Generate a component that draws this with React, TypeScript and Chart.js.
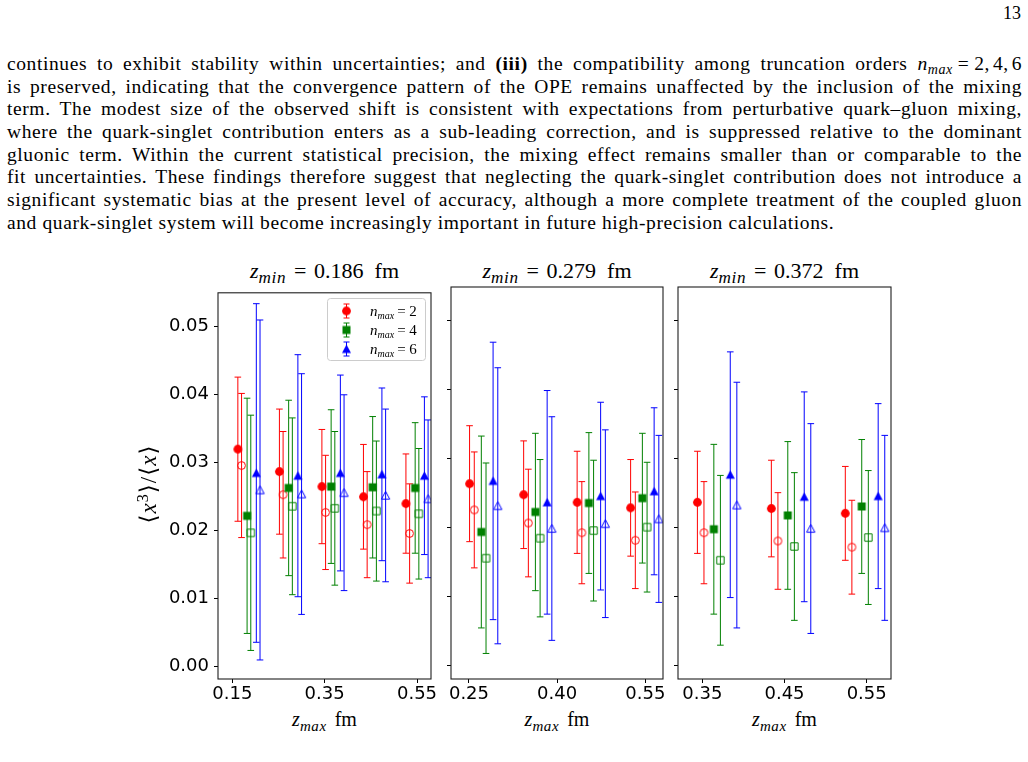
import React, { useEffect, useRef } from "react";
import { Chart, registerables } from "chart.js";

Chart.register(...registerables);

// ---------------- data ----------------
const N_MAX = [2, 4, 6];
const Z_MIN_LABELS = ["0.186", "0.279", "0.372"];

const Y_TICKS = [0, 0.01, 0.02, 0.03, 0.04, 0.05];
const Y_MIN = -0.0019;
const Y_MAX = 0.0549;

// z_min = 0.186 fm
const P1_ZMAX = [0.186, 0.276, 0.368, 0.458, 0.55];
const P1_X_TICKS = [0.15, 0.35, 0.55];
const P1_N2 = [0.0319, 0.0286, 0.0264, 0.0249, 0.0239];
const P1_N2_ERR = [0.0106, 0.0092, 0.0084, 0.0077, 0.0073];
const P1_N2_OPEN = [0.0295, 0.0252, 0.0226, 0.0208, 0.0195];
const P1_N2_OPEN_ERR = [0.0106, 0.0093, 0.0084, 0.0078, 0.0073];
const P1_N4 = [0.0221, 0.0262, 0.0264, 0.0263, 0.0262];
const P1_N4_ERR = [0.0173, 0.0129, 0.0113, 0.0104, 0.0096];
const P1_N4_OPEN = [0.0196, 0.0235, 0.0232, 0.0228, 0.0224];
const P1_N4_OPEN_ERR = [0.0173, 0.013, 0.0113, 0.0103, 0.0096];
const P1_N6 = [0.0284, 0.028, 0.0284, 0.0282, 0.028];
const P1_N6_ERR = [0.0249, 0.0178, 0.0144, 0.0127, 0.0116];
const P1_N6_OPEN = [0.0259, 0.0253, 0.0255, 0.0251, 0.0246];
const P1_N6_OPEN_ERR = [0.025, 0.0177, 0.0144, 0.0127, 0.0116];

// z_min = 0.279 fm
const P2_ZMAX = [0.275, 0.367, 0.458, 0.549];
const P2_X_TICKS = [0.25, 0.4, 0.55];
const P2_N2 = [0.0264, 0.0248, 0.0237, 0.0229];
const P2_N2_ERR = [0.0084, 0.0078, 0.0074, 0.007];
const P2_N2_OPEN = [0.0226, 0.0207, 0.0193, 0.0182];
const P2_N2_OPEN_ERR = [0.0084, 0.0078, 0.0074, 0.007];
const P2_N4 = [0.0194, 0.0223, 0.0236, 0.0243];
const P2_N4_ERR = [0.0139, 0.0114, 0.0102, 0.0094];
const P2_N4_OPEN = [0.0156, 0.0185, 0.0196, 0.0201];
const P2_N4_OPEN_ERR = [0.0138, 0.0114, 0.0102, 0.0094];
const P2_N6 = [0.0268, 0.0237, 0.0246, 0.0253];
const P2_N6_ERR = [0.0201, 0.0162, 0.0136, 0.0121];
const P2_N6_OPEN = [0.0232, 0.0199, 0.0206, 0.0213];
const P2_N6_OPEN_ERR = [0.02, 0.0162, 0.0136, 0.0121];

// z_min = 0.372 fm
const P3_ZMAX = [0.368, 0.458, 0.548];
const P3_X_TICKS = [0.35, 0.45, 0.55];
const P3_N2 = [0.0237, 0.0228, 0.0221];
const P3_N2_ERR = [0.0074, 0.007, 0.0068];
const P3_N2_OPEN = [0.0193, 0.0181, 0.0172];
const P3_N2_OPEN_ERR = [0.0074, 0.007, 0.0068];
const P3_N4 = [0.0198, 0.0218, 0.0231];
const P3_N4_ERR = [0.0123, 0.0107, 0.0097];
const P3_N4_OPEN = [0.0153, 0.0173, 0.0186];
const P3_N4_OPEN_ERR = [0.0123, 0.0107, 0.0097];
const P3_N6 = [0.0277, 0.0245, 0.0246];
const P3_N6_ERR = [0.0178, 0.0152, 0.0134];
const P3_N6_OPEN = [0.0233, 0.0199, 0.02];
const P3_N6_OPEN_ERR = [0.0178, 0.0152, 0.0134];

// ---------------- panel setup ----------------
type Series = { values: number[]; errors: number[] };
type PanelSpec = {
  zmin: string;
  zmax: number[];
  xMin: number;
  xMax: number;
  xTicks: number[];
  series: Series[];
};

const PANELS: PanelSpec[] = [
  {
    zmin: Z_MIN_LABELS[0],
    zmax: P1_ZMAX,
    xMin: 0.119,
    xMax: 0.5803,
    xTicks: P1_X_TICKS,
    series: [
      { values: P1_N2, errors: P1_N2_ERR },
      { values: P1_N2_OPEN, errors: P1_N2_OPEN_ERR },
      { values: P1_N4, errors: P1_N4_ERR },
      { values: P1_N4_OPEN, errors: P1_N4_OPEN_ERR },
      { values: P1_N6, errors: P1_N6_ERR },
      { values: P1_N6_OPEN, errors: P1_N6_OPEN_ERR },
    ],
  },
  {
    zmin: Z_MIN_LABELS[1],
    zmax: P2_ZMAX,
    xMin: 0.2194,
    xMax: 0.5801,
    xTicks: P2_X_TICKS,
    series: [
      { values: P2_N2, errors: P2_N2_ERR },
      { values: P2_N2_OPEN, errors: P2_N2_OPEN_ERR },
      { values: P2_N4, errors: P2_N4_ERR },
      { values: P2_N4_OPEN, errors: P2_N4_OPEN_ERR },
      { values: P2_N6, errors: P2_N6_ERR },
      { values: P2_N6_OPEN, errors: P2_N6_OPEN_ERR },
    ],
  },
  {
    zmin: Z_MIN_LABELS[2],
    zmax: P3_ZMAX,
    xMin: 0.3204,
    xMax: 0.5796,
    xTicks: P3_X_TICKS,
    series: [
      { values: P3_N2, errors: P3_N2_ERR },
      { values: P3_N2_OPEN, errors: P3_N2_OPEN_ERR },
      { values: P3_N4, errors: P3_N4_ERR },
      { values: P3_N4_OPEN, errors: P3_N4_OPEN_ERR },
      { values: P3_N6, errors: P3_N6_ERR },
      { values: P3_N6_OPEN, errors: P3_N6_OPEN_ERR },
    ],
  },
];

// horizontal shift (in fm) applied to each series so the six markers sit side by side
const SERIES_SHIFT = [-0.024, -0.016, -0.004, 0.004, 0.016, 0.024];

const SERIES_STYLE = [
  { color: "#ff0000", shape: "circle", filled: true },
  { color: "#ff0000", shape: "circle", filled: false },
  { color: "#008000", shape: "square", filled: true },
  { color: "#008000", shape: "square", filled: false },
  { color: "#0000ff", shape: "triangle", filled: true },
  { color: "#0000ff", shape: "triangle", filled: false },
];

// canvas placement of each panel (page pixels) and plot-area margins
const LAYOUT = [
  { left: 140, top: 277, width: 305, height: 423, yAxisWidth: 78, xAxisHeight: 21, padTop: 10, padRight: 14 },
  { left: 441, top: 277, width: 236, height: 423, yAxisWidth: 10, xAxisHeight: 21, padTop: 10, padRight: 14 },
  { left: 668, top: 277, width: 237, height: 423, yAxisWidth: 10, xAxisHeight: 21, padTop: 10, padRight: 14 },
];

const TICK_FONT = { family: "'DejaVu Sans', sans-serif", size: 18 };
const CAP = 3.3;

// ---------------- marker glyphs ----------------
const markerCache: Record<string, HTMLCanvasElement> = {};
function getMarker(k: number): HTMLCanvasElement {
  const st = SERIES_STYLE[k];
  const key = String(k);
  if (markerCache[key]) return markerCache[key];
  const c = document.createElement("canvas");
  c.width = 13;
  c.height = 13;
  const g = c.getContext("2d")!;
  g.fillStyle = st.color;
  g.strokeStyle = st.color;
  g.lineWidth = 1;
  g.beginPath();
  if (st.shape === "circle") {
    g.arc(6.5, 6.5, st.filled ? 4.4 : 3.9, 0, Math.PI * 2);
  } else if (st.shape === "square") {
    if (st.filled) g.rect(2.5, 2.5, 8, 8);
    else g.rect(2.8, 2.8, 7.4, 7.4);
  } else {
    if (st.filled) {
      g.moveTo(6.5, 2);
      g.lineTo(11, 10.5);
      g.lineTo(2, 10.5);
    } else {
      g.moveTo(6.5, 2.4);
      g.lineTo(10.6, 10.2);
      g.lineTo(2.4, 10.2);
    }
    g.closePath();
  }
  if (st.filled) g.fill();
  else g.stroke();
  markerCache[key] = c;
  return c;
}

// ---------------- plugins ----------------
const errorBarPlugin = {
  id: "errorBars",
  beforeDatasetDraw(chart: any, args: any) {
    const ds = chart.data.datasets[args.index];
    const errs: number[] | undefined = ds.errors;
    if (!errs) return;
    const { ctx, chartArea: a, scales } = chart;
    ctx.save();
    ctx.beginPath();
    ctx.rect(a.left, a.top, a.right - a.left, a.bottom - a.top);
    ctx.clip();
    ctx.strokeStyle = ds.errorColor;
    ctx.lineWidth = 1;
    ds.data.forEach((p: { x: number; y: number }, i: number) => {
      const x = scales.x.getPixelForValue(p.x);
      const yHi = scales.y.getPixelForValue(p.y + errs[i]);
      const yLo = scales.y.getPixelForValue(p.y - errs[i]);
      ctx.beginPath();
      ctx.moveTo(x, yHi);
      ctx.lineTo(x, yLo);
      ctx.moveTo(x - CAP, yHi);
      ctx.lineTo(x + CAP, yHi);
      ctx.moveTo(x - CAP, yLo);
      ctx.lineTo(x + CAP, yLo);
      ctx.stroke();
    });
    ctx.restore();
  },
};

const framePlugin = {
  id: "frame",
  afterDatasetsDraw(chart: any) {
    const { ctx, chartArea: a } = chart;
    ctx.save();
    ctx.strokeStyle = "#1e1e1e";
    ctx.lineWidth = 1.1;
    ctx.strokeRect(a.left, a.top, a.right - a.left, a.bottom - a.top);
    ctx.restore();
  },
};

const legendPlugin = {
  id: "nmaxLegend",
  afterDraw(chart: any) {
    const { ctx, chartArea: a } = chart;
    const w = 98;
    const h = 62;
    const x0 = Math.round(a.right - 6 - w) + 0.5;
    const y0 = Math.round(a.top + 5) + 0.5;
    ctx.save();
    ctx.beginPath();
    ctx.roundRect(x0, y0, w, h, 3);
    ctx.fillStyle = "rgba(255,255,255,0.8)";
    ctx.fill();
    ctx.strokeStyle = "#cccccc";
    ctx.lineWidth = 1;
    ctx.stroke();
    N_MAX.forEach((n, k) => {
      const st = SERIES_STYLE[k * 2];
      const mx = Math.round(x0 + 18) + 0.5;
      const my = Math.round(y0 + 12 + k * 19);
      ctx.strokeStyle = st.color;
      ctx.lineWidth = 1;
      ctx.beginPath();
      ctx.moveTo(mx, my - 7);
      ctx.lineTo(mx, my + 7);
      ctx.moveTo(mx - 3, my - 7);
      ctx.lineTo(mx + 3, my - 7);
      ctx.moveTo(mx - 3, my + 7);
      ctx.lineTo(mx + 3, my + 7);
      ctx.stroke();
      const img = getMarker(k * 2);
      ctx.drawImage(img, mx - img.width / 2, my - img.height / 2);

      let tx = x0 + 42.5;
      const by = my + 5;
      ctx.fillStyle = "#000";
      ctx.textBaseline = "alphabetic";
      ctx.textAlign = "left";
      ctx.font = "italic 15px 'Liberation Serif'";
      ctx.fillText("n", tx, by);
      tx += ctx.measureText("n").width;
      ctx.font = "italic 10px 'Liberation Serif'";
      ctx.fillText("max", tx, by + 3);
      tx += ctx.measureText("max").width + 3;
      ctx.font = "15px 'Liberation Serif'";
      ctx.fillText("= " + n, tx, by);
    });
    ctx.restore();
  },
};

// ---------------- components ----------------
function Panel({ spec, index }: { spec: PanelSpec; index: number }) {
  const ref = useRef<HTMLCanvasElement>(null);
  const L = LAYOUT[index];

  useEffect(() => {
    const canvas = ref.current;
    if (!canvas) return;
    const datasets = spec.series.map((s, k) => ({
      label: "n_max=" + N_MAX[Math.floor(k / 2)],
      data: spec.zmax.map((z, i) => ({ x: z + SERIES_SHIFT[k], y: s.values[i] })),
      errors: s.errors,
      errorColor: SERIES_STYLE[k].color,
      pointStyle: getMarker(k),
      pointRadius: 5,
      pointHoverRadius: 5,
      showLine: false,
      clip: 0,
      order: 6 - k,
    }));

    const chart = new Chart(canvas, {
      type: "scatter",
      data: { datasets } as any,
      options: {
        animation: false,
        responsive: false,
        events: [],
        layout: { padding: { left: 0, top: L.padTop, right: L.padRight, bottom: 0 } },
        plugins: {
          legend: { display: false },
          tooltip: { enabled: false },
          title: { display: false },
        },
        scales: {
          x: {
            type: "linear",
            min: spec.xMin,
            max: spec.xMax,
            bounds: "data",
            afterBuildTicks: (s: any) => {
              s.ticks = spec.xTicks.map((v) => ({ value: v }));
            },
            afterFit: (s: any) => {
              s.height = L.xAxisHeight;
            },
            ticks: {
              callback: (v: any) => Number(v).toFixed(2),
              color: "#000",
              font: TICK_FONT,
              padding: 1,
              maxRotation: 0,
              autoSkip: false,
            },
            grid: { display: true, drawOnChartArea: false, drawTicks: true, tickLength: 4, color: "#000" },
            border: { display: false },
          },
          y: {
            type: "linear",
            min: Y_MIN,
            max: Y_MAX,
            bounds: "data",
            afterBuildTicks: (s: any) => {
              s.ticks = Y_TICKS.map((v) => ({ value: v }));
            },
            afterFit: (s: any) => {
              s.width = L.yAxisWidth;
            },
            ticks: {
              display: index === 0,
              callback: (v: any) => Number(v).toFixed(2),
              color: "#000",
              font: TICK_FONT,
              padding: 5,
            },
            grid: { display: true, drawOnChartArea: false, drawTicks: true, tickLength: 4, color: "#000" },
            border: { display: false },
          },
        },
      } as any,
      plugins: index === 0 ? [errorBarPlugin, framePlugin, legendPlugin] : [errorBarPlugin, framePlugin],
    });
    return () => chart.destroy();
  }, [spec, index]);

  return (
    <canvas
      ref={ref}
      width={L.width}
      height={L.height}
      style={{ position: "absolute", left: L.left, top: L.top, width: L.width, height: L.height }}
    />
  );
}

const Sub = ({ children, size = "0.72em" }: { children: React.ReactNode; size?: string }) => (
  <span style={{ fontSize: size, fontStyle: "italic", position: "relative", top: "0.3em", letterSpacing: "0.04em" }}>
    {children}
  </span>
);

const PARAGRAPH_LINES: React.ReactNode[] = [
  <>
    continues to exhibit stability within uncertainties; and <b>(iii)</b> the compatibility among truncation orders{" "}
    <i>n</i>
    <Sub>max</Sub>
    <span style={{ margin: "0 0.25em" }}>=</span>2,<span style={{ marginLeft: "0.15em" }}>4,</span>
    <span style={{ marginLeft: "0.15em" }}>6</span>
  </>,
  "is preserved, indicating that the convergence pattern of the OPE remains unaffected by the inclusion of the mixing",
  "term. The modest size of the observed shift is consistent with expectations from perturbative quark\u2013gluon mixing,",
  "where the quark-singlet contribution enters as a sub-leading correction, and is suppressed relative to the dominant",
  "gluonic term. Within the current statistical precision, the mixing effect remains smaller than or comparable to the",
  "fit uncertainties. These findings therefore suggest that neglecting the quark-singlet contribution does not introduce a",
  "significant systematic bias at the present level of accuracy, although a more complete treatment of the coupled gluon",
  "and quark-singlet system will become increasingly important in future high-precision calculations.",
];

export default function App() {
  const serif = "'Liberation Serif', 'DejaVu Serif', serif";
  const centers = LAYOUT.map((L) => L.left + (L.width - L.padRight + L.yAxisWidth) / 2);
  return (
    <div
      style={{
        position: "absolute",
        left: 0,
        top: 0,
        width: 1028,
        height: 762,
        overflow: "hidden",
        background: "#fff",
        fontFamily: serif,
        color: "#000",
      }}
    >
      <div style={{ position: "absolute", right: 7, top: 4, fontSize: 18, lineHeight: "18px" }}>13</div>

      <div
        style={{
          position: "absolute",
          left: 7,
          top: 53,
          width: 1015,
          fontSize: 19.5,
          letterSpacing: "0.6px",
          lineHeight: "22.7px",
        }}
      >
        {PARAGRAPH_LINES.map((line, i) => (
          <div
            key={i}
            style={{
              textAlign: i === PARAGRAPH_LINES.length - 1 ? "left" : "justify",
              textAlignLast: i === PARAGRAPH_LINES.length - 1 ? "left" : "justify",
              height: 22.7,
            }}
          >
            {line}
          </div>
        ))}
      </div>

      {PANELS.map((p, i) => (
        <div
          key={"t" + i}
          style={{
            position: "absolute",
            left: centers[i] - 110,
            width: 220,
            top: 260,
            textAlign: "center",
            fontSize: 22,
            lineHeight: "22px",
            whiteSpace: "nowrap",
          }}
        >
          <i>z</i>
          <Sub size="0.78em">min</Sub>
          <span style={{ margin: "0 0.35em" }}>=</span>
          {p.zmin}
          <span style={{ marginLeft: "0.5em" }}>fm</span>
        </div>
      ))}

      {PANELS.map((p, i) => (
        <Panel key={"p" + i} spec={p} index={i} />
      ))}

      {PANELS.map((p, i) => (
        <div
          key={"x" + i}
          style={{
            position: "absolute",
            left: centers[i] - 60,
            width: 120,
            top: 709,
            textAlign: "center",
            fontSize: 20,
            lineHeight: "20px",
            whiteSpace: "nowrap",
          }}
        >
          <i>z</i>
          <Sub size="0.75em">max</Sub>
          <span style={{ marginLeft: "0.4em" }}>fm</span>
        </div>
      ))}

      <div
        style={{
          position: "absolute",
          left: 149 - 70,
          top: 484 - 13,
          width: 140,
          height: 26,
          lineHeight: "26px",
          textAlign: "center",
          fontSize: 23,
          letterSpacing: "1px",
          whiteSpace: "nowrap",
          transform: "rotate(-90deg)",
        }}
      >
        {"\u27E8"}
        <i>x</i>
        <span style={{ fontSize: "0.7em", position: "relative", top: "-0.5em" }}>3</span>
        {"\u27E9/\u27E8"}
        <i>x</i>
        {"\u27E9"}
      </div>
    </div>
  );
}
